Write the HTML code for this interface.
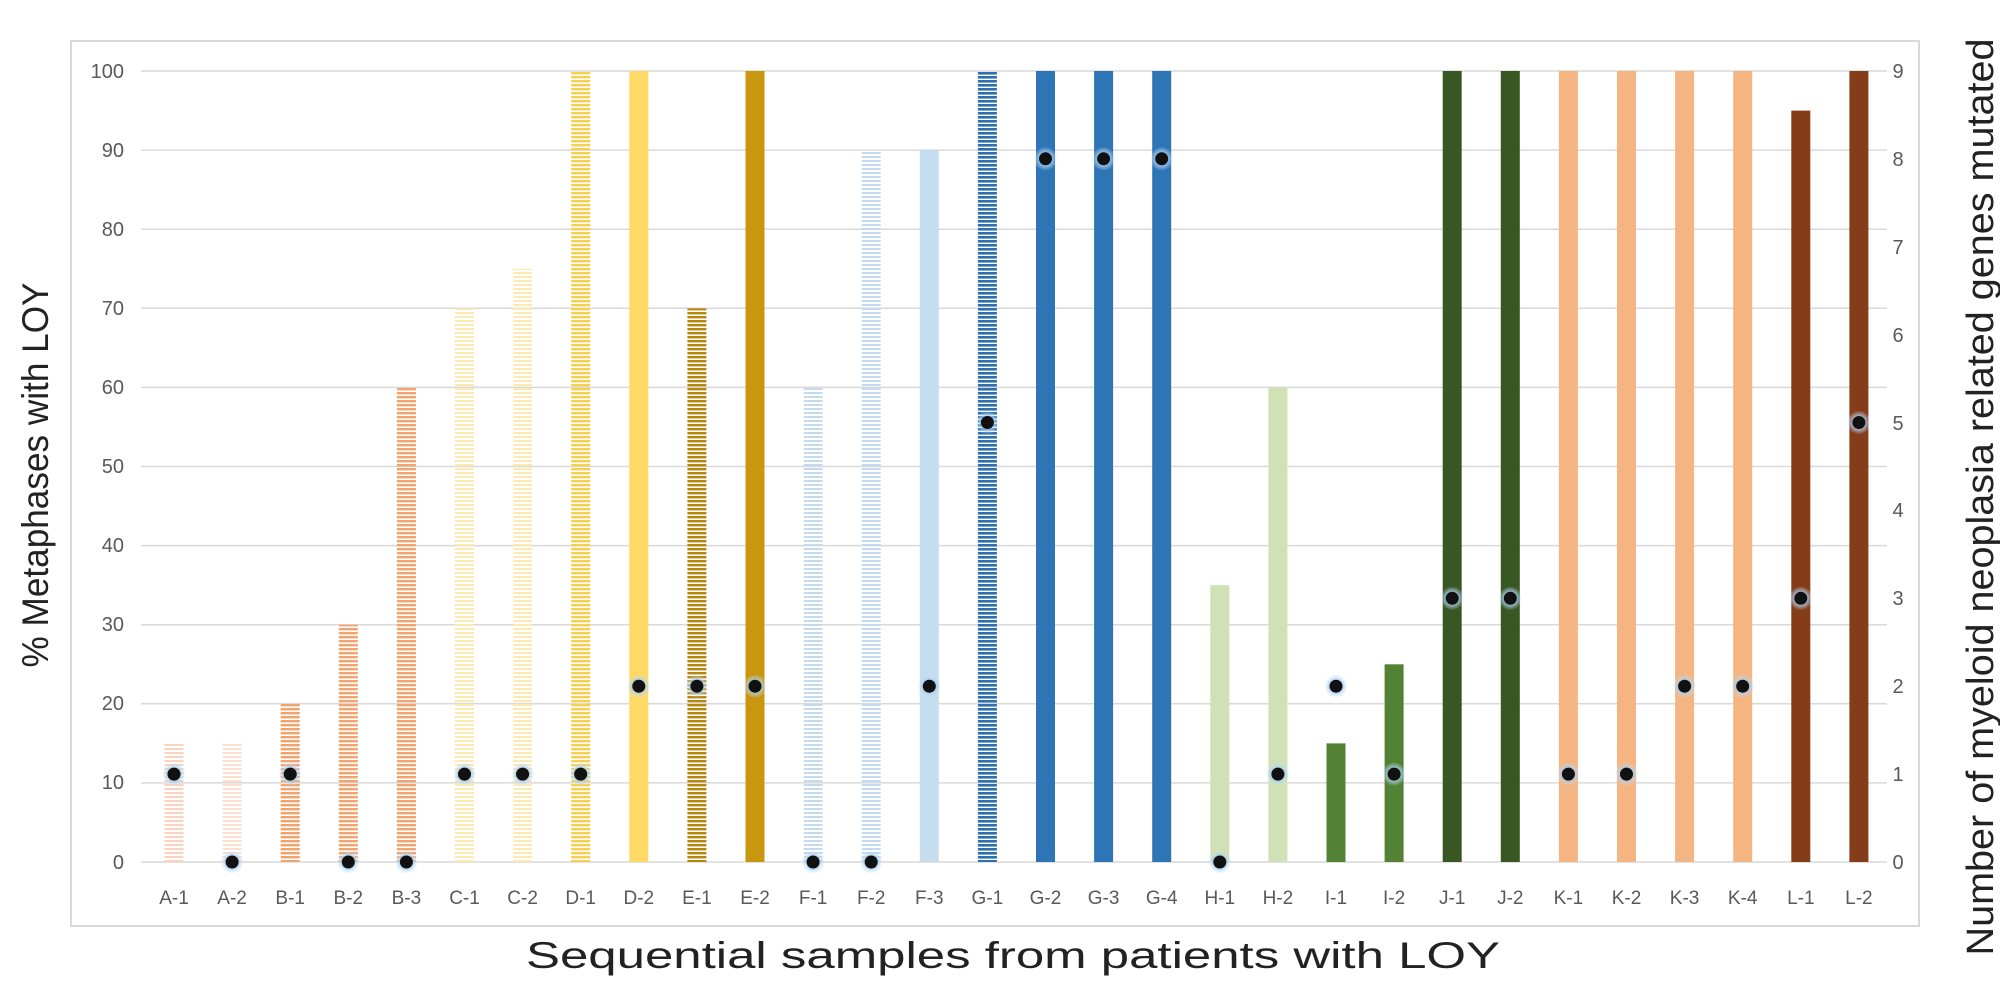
<!DOCTYPE html>
<html><head><meta charset="utf-8"><style>html,body{margin:0;padding:0;background:#fff}svg{display:block}</style></head><body>
<svg width="2000" height="990" viewBox="0 0 2000 990" xmlns="http://www.w3.org/2000/svg" font-family="Liberation Sans, sans-serif">
<defs>
<pattern id="pA1" width="20" height="4" patternUnits="userSpaceOnUse"><rect width="20" height="2" fill="#f9d3bd"/></pattern>
<pattern id="pA2" width="20" height="4" patternUnits="userSpaceOnUse"><rect width="20" height="2" fill="#fbe0d1"/></pattern>
<pattern id="pB" width="20" height="4" patternUnits="userSpaceOnUse"><rect width="20" height="2.4" fill="#f3a36e"/></pattern>
<pattern id="pC" width="20" height="4" patternUnits="userSpaceOnUse"><rect width="20" height="2" fill="#fdeab0"/></pattern>
<pattern id="pD" width="20" height="4" patternUnits="userSpaceOnUse"><rect width="20" height="2.4" fill="#f8d050"/></pattern>
<pattern id="pE" width="20" height="4" patternUnits="userSpaceOnUse"><rect width="20" height="2.4" fill="#b8860b"/></pattern>
<pattern id="pF" width="20" height="4" patternUnits="userSpaceOnUse"><rect width="20" height="2" fill="#c3daf0"/></pattern>
<pattern id="pG" width="20" height="4" patternUnits="userSpaceOnUse"><rect width="20" height="2.6" fill="#2e6fb0"/></pattern>
<radialGradient id="glow"><stop offset="0.5" stop-color="#9cc8ee" stop-opacity="0.9"/><stop offset="1" stop-color="#cfe4f7" stop-opacity="0"/></radialGradient>
</defs>
<rect x="71" y="41" width="1848" height="885" fill="#fff" stroke="#d9d9d9" stroke-width="2"/>
<g stroke="#d9d9d9" stroke-width="1.5">
<line x1="141" x2="1887" y1="71" y2="71"/><line x1="141" x2="1887" y1="150.1" y2="150.1"/><line x1="141" x2="1887" y1="229.2" y2="229.2"/><line x1="141" x2="1887" y1="308.3" y2="308.3"/><line x1="141" x2="1887" y1="387.4" y2="387.4"/><line x1="141" x2="1887" y1="466.5" y2="466.5"/><line x1="141" x2="1887" y1="545.6" y2="545.6"/><line x1="141" x2="1887" y1="624.7" y2="624.7"/><line x1="141" x2="1887" y1="703.8" y2="703.8"/><line x1="141" x2="1887" y1="782.9" y2="782.9"/><line x1="141" x2="1887" y1="862" y2="862"/>
</g>
<g font-size="20" fill="#595959" text-anchor="end">
<text x="124" y="78">100</text><text x="124" y="157">90</text><text x="124" y="236">80</text><text x="124" y="315">70</text><text x="124" y="394">60</text><text x="124" y="473">50</text><text x="124" y="552">40</text><text x="124" y="631">30</text><text x="124" y="710">20</text><text x="124" y="789">10</text><text x="124" y="869">0</text>
</g>
<g font-size="20" fill="#595959" text-anchor="middle">
<text x="1898" y="78">9</text><text x="1898" y="166">8</text><text x="1898" y="254">7</text><text x="1898" y="342">6</text><text x="1898" y="430">5</text><text x="1898" y="517">4</text><text x="1898" y="605">3</text><text x="1898" y="693">2</text><text x="1898" y="781">1</text><text x="1898" y="869">0</text>
</g>
<g>
<rect x="164.5" y="743.4" width="19" height="118.6" fill="url(#pA1)"/>
<rect x="222.6" y="743.4" width="19" height="118.6" fill="url(#pA2)"/>
<rect x="280.7" y="703.8" width="19" height="158.2" fill="url(#pB)"/>
<rect x="338.8" y="624.7" width="19" height="237.3" fill="url(#pB)"/>
<rect x="396.9" y="387.4" width="19" height="474.6" fill="url(#pB)"/>
<rect x="455" y="308.3" width="19" height="553.7" fill="url(#pC)"/>
<rect x="513.1" y="268.8" width="19" height="593.2" fill="url(#pC)"/>
<rect x="571.2" y="71" width="19" height="791" fill="url(#pD)"/>
<rect x="629.3" y="71" width="19" height="791" fill="#ffd966"/>
<rect x="687.4" y="308.3" width="19" height="553.7" fill="url(#pE)"/>
<rect x="745.5" y="71" width="19" height="791" fill="#c9960f"/>
<rect x="803.6" y="387.4" width="19" height="474.6" fill="url(#pF)"/>
<rect x="861.7" y="150.1" width="19" height="711.9" fill="url(#pF)"/>
<rect x="919.8" y="150.1" width="19" height="711.9" fill="#c6dcef"/>
<rect x="977.9" y="71" width="19" height="791" fill="url(#pG)"/>
<rect x="1036" y="71" width="19" height="791" fill="#2e75b6"/>
<rect x="1094.1" y="71" width="19" height="791" fill="#2e75b6"/>
<rect x="1152.2" y="71" width="19" height="791" fill="#2e75b6"/>
<rect x="1210.3" y="585.2" width="19" height="276.8" fill="#d0e2b5"/>
<rect x="1268.4" y="387.4" width="19" height="474.6" fill="#d0e2b5"/>
<rect x="1326.5" y="743.4" width="19" height="118.6" fill="#548235"/>
<rect x="1384.6" y="664.3" width="19" height="197.7" fill="#548235"/>
<rect x="1442.7" y="71" width="19" height="791" fill="#385723"/>
<rect x="1500.8" y="71" width="19" height="791" fill="#385723"/>
<rect x="1558.9" y="71" width="19" height="791" fill="#f4b583"/>
<rect x="1617" y="71" width="19" height="791" fill="#f4b583"/>
<rect x="1675.1" y="71" width="19" height="791" fill="#f4b583"/>
<rect x="1733.2" y="71" width="19" height="791" fill="#f4b583"/>
<rect x="1791.3" y="110.6" width="19" height="751.4" fill="#843c19"/>
<rect x="1849.4" y="71" width="19" height="791" fill="#843c19"/>
</g>
<g>
<g fill="url(#glow)">
<circle cx="174" cy="774.1" r="12"/><circle cx="232.1" cy="862" r="12"/><circle cx="290.2" cy="774.1" r="12"/><circle cx="348.3" cy="862" r="12"/><circle cx="406.4" cy="862" r="12"/><circle cx="464.5" cy="774.1" r="12"/><circle cx="522.6" cy="774.1" r="12"/><circle cx="580.7" cy="774.1" r="12"/><circle cx="638.8" cy="686.2" r="12"/><circle cx="696.9" cy="686.2" r="12"/><circle cx="755" cy="686.2" r="12"/><circle cx="813.1" cy="862" r="12"/><circle cx="871.2" cy="862" r="12"/><circle cx="929.3" cy="686.2" r="12"/><circle cx="987.4" cy="422.5" r="12"/><circle cx="1045.5" cy="158.8" r="12"/><circle cx="1103.6" cy="158.8" r="12"/><circle cx="1161.7" cy="158.8" r="12"/><circle cx="1219.8" cy="862" r="12"/><circle cx="1277.9" cy="774.1" r="12"/><circle cx="1336" cy="686.2" r="12"/><circle cx="1394.1" cy="774.1" r="12"/><circle cx="1452.2" cy="598.3" r="12"/><circle cx="1510.3" cy="598.3" r="12"/><circle cx="1568.4" cy="774.1" r="12"/><circle cx="1626.5" cy="774.1" r="12"/><circle cx="1684.6" cy="686.2" r="12"/><circle cx="1742.7" cy="686.2" r="12"/><circle cx="1800.8" cy="598.3" r="12"/><circle cx="1858.9" cy="422.5" r="12"/>
</g>
<g fill="#111">
<circle cx="174" cy="774.1" r="6.5"/><circle cx="232.1" cy="862" r="6.5"/><circle cx="290.2" cy="774.1" r="6.5"/><circle cx="348.3" cy="862" r="6.5"/><circle cx="406.4" cy="862" r="6.5"/><circle cx="464.5" cy="774.1" r="6.5"/><circle cx="522.6" cy="774.1" r="6.5"/><circle cx="580.7" cy="774.1" r="6.5"/><circle cx="638.8" cy="686.2" r="6.5"/><circle cx="696.9" cy="686.2" r="6.5"/><circle cx="755" cy="686.2" r="6.5"/><circle cx="813.1" cy="862" r="6.5"/><circle cx="871.2" cy="862" r="6.5"/><circle cx="929.3" cy="686.2" r="6.5"/><circle cx="987.4" cy="422.5" r="6.5"/><circle cx="1045.5" cy="158.8" r="6.5"/><circle cx="1103.6" cy="158.8" r="6.5"/><circle cx="1161.7" cy="158.8" r="6.5"/><circle cx="1219.8" cy="862" r="6.5"/><circle cx="1277.9" cy="774.1" r="6.5"/><circle cx="1336" cy="686.2" r="6.5"/><circle cx="1394.1" cy="774.1" r="6.5"/><circle cx="1452.2" cy="598.3" r="6.5"/><circle cx="1510.3" cy="598.3" r="6.5"/><circle cx="1568.4" cy="774.1" r="6.5"/><circle cx="1626.5" cy="774.1" r="6.5"/><circle cx="1684.6" cy="686.2" r="6.5"/><circle cx="1742.7" cy="686.2" r="6.5"/><circle cx="1800.8" cy="598.3" r="6.5"/><circle cx="1858.9" cy="422.5" r="6.5"/>
</g>
</g>
<g font-size="19" fill="#595959" text-anchor="middle">
<text x="174" y="904">A-1</text><text x="232.1" y="904">A-2</text><text x="290.2" y="904">B-1</text><text x="348.3" y="904">B-2</text><text x="406.4" y="904">B-3</text><text x="464.5" y="904">C-1</text><text x="522.6" y="904">C-2</text><text x="580.7" y="904">D-1</text><text x="638.8" y="904">D-2</text><text x="696.9" y="904">E-1</text><text x="755" y="904">E-2</text><text x="813.1" y="904">F-1</text><text x="871.2" y="904">F-2</text><text x="929.3" y="904">F-3</text><text x="987.4" y="904">G-1</text><text x="1045.5" y="904">G-2</text><text x="1103.6" y="904">G-3</text><text x="1161.7" y="904">G-4</text><text x="1219.8" y="904">H-1</text><text x="1277.9" y="904">H-2</text><text x="1336" y="904">I-1</text><text x="1394.1" y="904">I-2</text><text x="1452.2" y="904">J-1</text><text x="1510.3" y="904">J-2</text><text x="1568.4" y="904">K-1</text><text x="1626.5" y="904">K-2</text><text x="1684.6" y="904">K-3</text><text x="1742.7" y="904">K-4</text><text x="1800.8" y="904">L-1</text><text x="1858.9" y="904">L-2</text>
</g>
<text x="1013" y="968" font-size="37" fill="#222" text-anchor="middle" textLength="974" lengthAdjust="spacingAndGlyphs">Sequential samples from patients with LOY</text>
<text transform="translate(48,475) rotate(-90)" font-size="37" fill="#222" text-anchor="middle" textLength="385" lengthAdjust="spacingAndGlyphs">% Metaphases with LOY</text>
<text transform="translate(1993,497) rotate(-90)" font-size="38" fill="#222" text-anchor="middle" textLength="917" lengthAdjust="spacingAndGlyphs">Number of myeloid neoplasia related genes mutated</text>
</svg>
</body></html>
